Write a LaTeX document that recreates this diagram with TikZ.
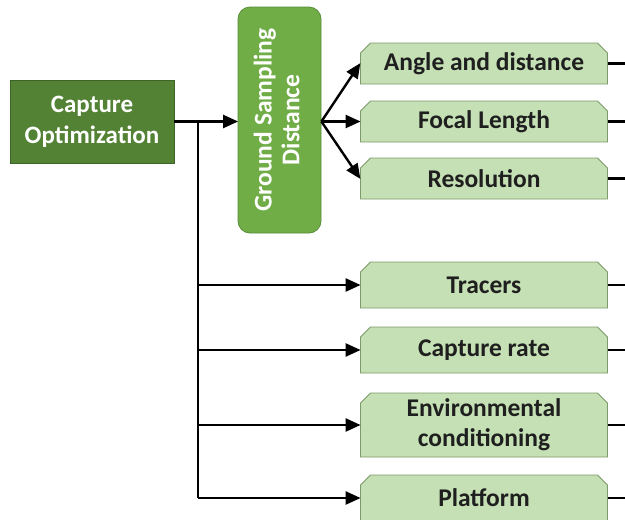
\documentclass[tikz,border=0pt]{standalone}
\usepackage{fontspec}
\setmainfont{Carlito}
\usetikzlibrary{arrows.meta,shapes.misc}

\definecolor{darkgreen}{HTML}{548235}
\definecolor{darkgreenline}{HTML}{3E6328}
\definecolor{midgreen}{HTML}{70AD47}
\definecolor{midgreenline}{HTML}{5A8C3A}
\definecolor{lightgreen}{HTML}{C5E0B4}
\definecolor{lightgreenline}{HTML}{7C9A6A}

\tikzset{
  rootbox/.style={rectangle, fill=darkgreen, draw=darkgreenline, line width=0.8pt,
    text=white, align=center, inner sep=0pt,
    font=\fontsize{25}{31}\selectfont\bfseries},
  gsdbox/.style={rectangle, rounded corners=12pt, fill=midgreen, draw=midgreenline,
    line width=0.8pt, text=white, inner sep=0pt,
    font=\fontsize{25.5}{30}\selectfont\bfseries},
  itembox/.style={chamfered rectangle, chamfered rectangle corners={north west,north east},
    chamfered rectangle xsep=5pt, chamfered rectangle ysep=5pt,
    fill=lightgreen, draw=lightgreenline, line width=0.8pt,
    text=black!88, align=center, inner sep=0pt, minimum width=247pt,
    font=\fontsize{25.5}{30}\selectfont\bfseries},
  link/.style={line width=2.4pt, draw=black},
  arrowlink/.style={link, -{Triangle[length=15pt,width=13pt]}, shorten >=-0.5pt},
}

\begin{document}
\begin{tikzpicture}[x=1pt,y=-1pt]
  \useasboundingbox (0,0) rectangle (625,520);
  \fill[white] (0,0) rectangle (625,520);

  % root and the ground sampling distance block
  \node[rootbox, minimum width=164pt, minimum height=83pt] (cap) at (92,121.5)
    {Capture\\Optimization};
  \node[gsdbox, minimum width=83pt, minimum height=226pt] (gsd) at (279.5,120)
    {\rotatebox{90}{\begin{tabular}{@{}c@{}}Ground Sampling\\[-2pt]Distance\end{tabular}}};

  % items
  \node[itembox, minimum height=41pt] (ang) at (484,63.5) {Angle and distance};
  \node[itembox, minimum height=41pt] (foc) at (484,121.5) {Focal Length};
  \node[itembox, minimum height=41pt] (res) at (484,178.5) {Resolution};
  \node[itembox, minimum height=46pt] (tra) at (484,285) {Tracers};
  \node[itembox, minimum height=46pt] (rat) at (484,350) {Capture rate};
  \node[itembox, minimum height=64pt] (env) at (484,425) {Environmental\\conditioning};
  \node[itembox, minimum height=46pt] (pla) at (484,498) {Platform};

  % right edge and trunk
  \coordinate (edge) at (625,0);
  \coordinate (j) at (198,121.5);

  \draw[arrowlink] (cap.east) -- (cap.east -| gsd.west);
  \draw[link] (j) -- (j |- pla.west);
  \foreach \n in {tra,rat,env,pla}
    \draw[arrowlink] (j |- \n.west) -- (\n.west);

  \coordinate (g) at (gsd.east |- foc.west);
  \draw[arrowlink] (g) -- (ang.west);
  \draw[arrowlink] (g) -- (foc.west);
  \draw[arrowlink] (g) -- (res.west);

  \foreach \n in {ang,foc,res,tra,rat,env,pla}
    \draw[link] (\n.east) -- (\n.east -| edge);
\end{tikzpicture}
\end{document}
